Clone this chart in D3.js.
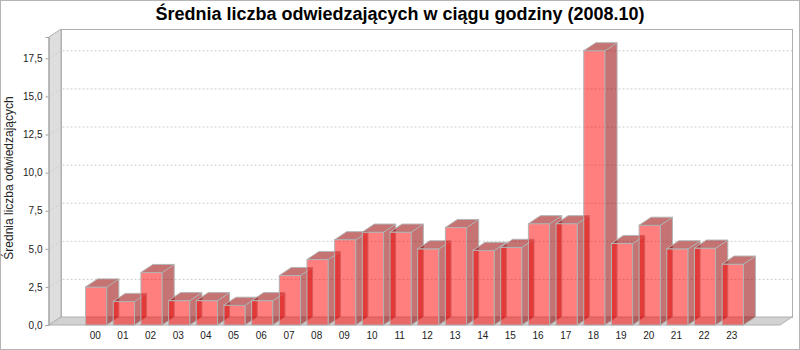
<!DOCTYPE html>
<html>
<head>
<meta charset="utf-8">
<script src="https://cdn.jsdelivr.net/npm/d3@7"></script>
<style>
  body { margin: 0; background: #fff; }
  svg { display: block; font-family: "Liberation Sans", Arial, sans-serif; }
</style>
</head>
<body>
<div class="canva"></div>
<script>
var hours = ["00", "01", "02", "03", "04", "05", "06", "07", "08", "09", "10", "11",
             "12", "13", "14", "15", "16", "17", "18", "19", "20", "21", "22", "23"];

var visitors = [2.5, 1.55, 3.45, 1.6, 1.6, 1.3, 1.6, 3.25, 4.3, 5.6, 6.1, 6.1,
                5.0, 6.4, 4.9, 5.1, 6.65, 6.65, 18.0, 5.35, 6.55, 5.0, 5.05, 4.0];

var yTicks = [0, 2.5, 5, 7.5, 10, 12.5, 15, 17.5];

var title = "Średnia liczba odwiedzających w ciągu godziny (2008.10)";
var yTitle = "Średnia liczba odwiedzających";

const width = 800, height = 350;
const depthX = 12, depthY = 8;
// front face of the plot area
const plotLeft = 49, plotRight = 780, plotTop = 37, plotBottom = 325;

const svg = d3.select(".canva").append("svg")
    .attr("width", width)
    .attr("height", height);

svg.append("rect")
    .attr("x", 0.5).attr("y", 0.5)
    .attr("width", width - 1).attr("height", height - 1)
    .attr("fill", "#fff")
    .attr("stroke", "#b4b4b4");

svg.append("text")
    .attr("x", 400)
    .attr("y", 20)
    .attr("text-anchor", "middle")
    .attr("font-weight", "bold")
    .attr("font-size", 18)
    .text(title);

// scales: 5% margin each end, 20% of width shared as gaps between categories
var n = hours.length;
var plotW = plotRight - plotLeft;
var step = plotW * 0.2 / (n - 1) + plotW * 0.7 / n;
var x = d3.scaleBand()
    .domain(hours)
    .range([plotLeft, plotRight])
    .paddingInner((plotW * 0.2 / (n - 1)) / step)
    .paddingOuter((plotW * 0.05) / step);

var y = d3.scaleLinear()
    .domain([0, d3.max(visitors) * 1.05])
    .range([plotBottom, plotTop]);

// back wall
svg.append("rect")
    .attr("x", plotLeft + depthX + 0.5)
    .attr("y", plotTop - depthY + 0.5)
    .attr("width", plotW)
    .attr("height", plotBottom - plotTop)
    .attr("fill", "#fff")
    .attr("stroke", "#b0b0b0");

// left wall
svg.append("polygon")
    .attr("points", [[plotLeft, plotTop], [plotLeft + depthX, plotTop - depthY], [plotLeft + depthX, plotBottom - depthY], [plotLeft, plotBottom]].join(" "))
    .attr("fill", "#dedede")
    .attr("stroke", "#b0b0b0");

// floor
svg.append("polygon")
    .attr("points", [[plotLeft, plotBottom], [plotLeft + depthX, plotBottom - depthY], [plotRight + depthX, plotBottom - depthY], [plotRight, plotBottom]].join(" "))
    .attr("fill", "#d2d2d2")
    .attr("stroke", "#b0b0b0");

// gridlines on wall
var grid = svg.append("g")
    .attr("fill", "none")
    .attr("stroke", "#cccccc")
    .attr("stroke-dasharray", "2,2");

grid.selectAll(".gx")
    .data(yTicks.filter(d => d > 0))
    .enter()
    .append("path")
    .attr("d", d => "M" + plotLeft + "," + (y(d) + 0.5) + "L" + (plotLeft + depthX) + "," + (y(d) - depthY + 0.5)
                  + "L" + (plotRight + depthX) + "," + (y(d) - depthY + 0.5));

// bars
var bars = svg.append("g")
    .attr("stroke", "#b4b4b4")
    .attr("stroke-width", 1);

hours.forEach(function(h, i) {
    var x0 = x(h), w = x.bandwidth(), yt = y(visitors[i]), yb = y(0);
    var g = bars.append("g");
    g.append("rect")
        .attr("x", x0).attr("y", yt)
        .attr("width", w).attr("height", yb - yt)
        .attr("fill", "rgba(255,0,0,0.5)");
    g.append("polygon")
        .attr("points", [[x0 + w, yt], [x0 + w + depthX, yt - depthY], [x0 + w + depthX, yb - depthY], [x0 + w, yb]].join(" "))
        .attr("fill", "rgba(150,0,0,0.55)");
    g.append("polygon")
        .attr("points", [[x0, yt], [x0 + depthX, yt - depthY], [x0 + w + depthX, yt - depthY], [x0 + w, yt]].join(" "))
        .attr("fill", "rgba(150,0,0,0.55)");
});

// y axis
var yAxis = d3.axisLeft(y)
    .tickValues(yTicks)
    .tickSize(3)
    .tickPadding(3)
    .tickFormat(d => d3.format(".1f")(d).replace(".", ","));

var ya = svg.append("g")
    .attr("transform", "translate(" + (plotLeft - 0.5) + ",0)")
    .call(yAxis);
ya.select(".domain").attr("stroke", "#a0a0a0");
ya.selectAll(".tick line").attr("stroke", "#a0a0a0");
ya.selectAll("text").attr("font-size", 10).attr("font-family", "Liberation Sans, Arial, sans-serif").attr("fill", "#222");

svg.append("text")
    .attr("transform", "translate(13," + ((plotTop + plotBottom) / 2 - 3) + ") rotate(-90)")
    .attr("text-anchor", "middle")
    .attr("font-size", 12)
    .attr("fill", "#222")
    .text(yTitle);

// x axis (labels only)
var xAxis = d3.axisBottom(x)
    .tickSize(0)
    .tickPadding(7);

var xa = svg.append("g")
    .attr("transform", "translate(-1," + plotBottom + ")")
    .call(xAxis);
xa.select(".domain").remove();
xa.selectAll("text").attr("font-size", 10).attr("font-family", "Liberation Sans, Arial, sans-serif").attr("fill", "#222");
</script>
</body>
</html>
